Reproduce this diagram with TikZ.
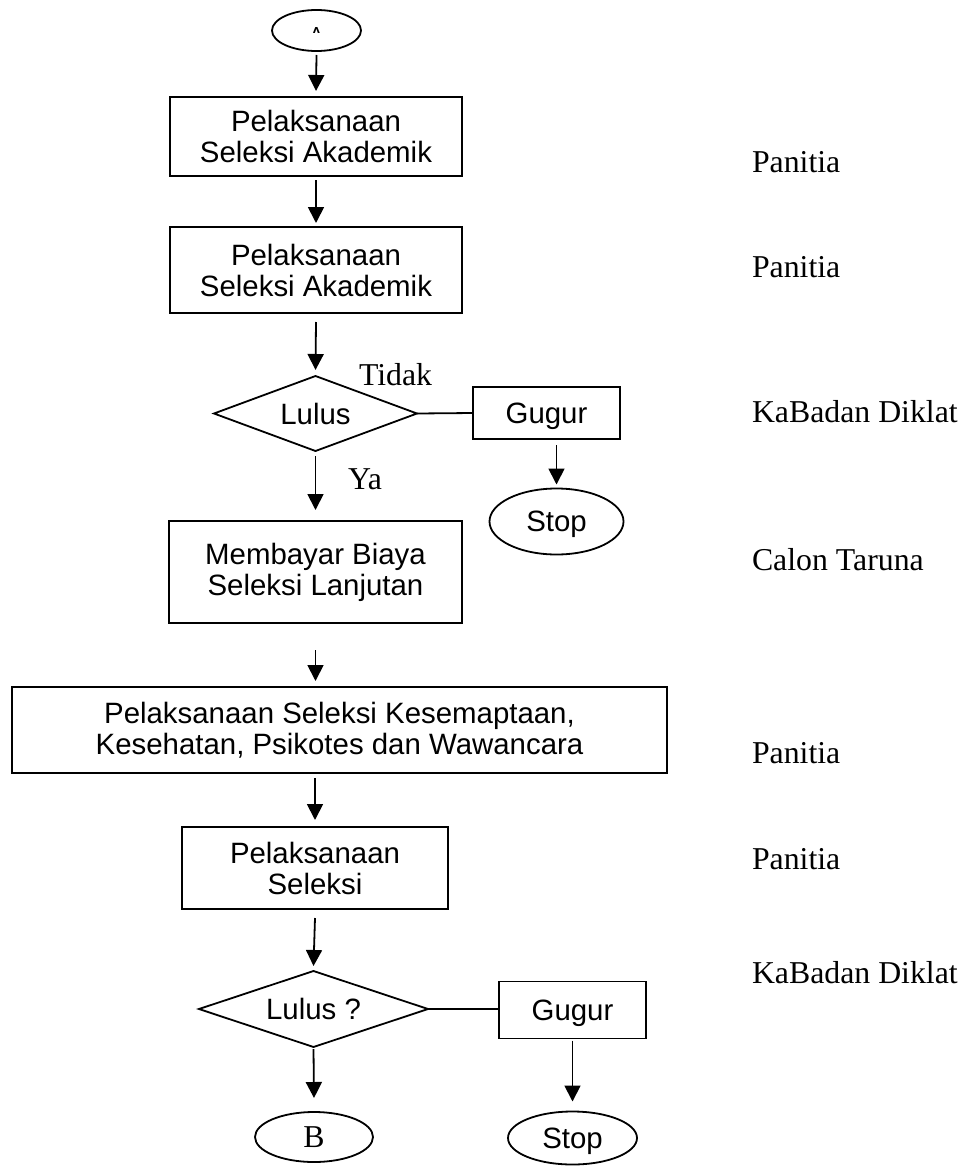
\documentclass[tikz,border=0pt]{standalone}
\usepackage{fontspec}
\setmainfont{Liberation Serif}
\setsansfont{Liberation Sans}
\newfontfamily\dejavufont{DejaVu Sans}
\usetikzlibrary{shapes.geometric,arrows.meta}
\newcommand\boxfont{\sffamily\fontsize{29.4}{31}\selectfont}
\newcommand\labfont{\rmfamily\fontsize{31.8}{36}\selectfont}
\tikzset{
  every node/.style={inner sep=0pt, outer sep=0pt},
  ln/.style={line width=1.8pt},
  arr/.style={line width=1.8pt, -{Triangle[width=16pt,length=16pt]}},
  proc/.style={draw, ln, rectangle, align=center, font=\boxfont},
  dec/.style={draw, ln, diamond, aspect=3, align=center, font=\boxfont},
  term/.style={draw, ln, ellipse, align=center},
  lab/.style={anchor=base west, font=\labfont},
}
\begin{document}
\begin{tikzpicture}[x=1pt,y=-1pt]
\useasboundingbox (0,0) rectangle (964,1172);
% nodes
\node[term, minimum width=89pt, minimum height=41pt, font=\dejavufont\bfseries\fontsize{11}{11}\selectfont] (start) at (316.5,30.5) {ʌ};
\node[proc, minimum width=292pt, minimum height=79pt] (b1) at (316,136.5) {Pelaksanaan\\Seleksi Akademik};
\node[proc, minimum width=292pt, minimum height=86pt] (b2) at (316,270) {Pelaksanaan\\Seleksi Akademik};
\node[dec, minimum width=203pt, minimum height=75pt] (d1) at (315.5,413.5) {Lulus};
\node[proc, minimum width=147pt, minimum height=52pt, text depth=0pt] (g1) at (546.5,413) {Gugur};
\node[term, minimum width=134pt, minimum height=66pt, font=\boxfont, text depth=0pt] (s1) at (556.5,521.5) {Stop};
\node[proc, minimum width=293pt, minimum height=102pt] (b3) at (315.5,572) {Membayar Biaya\\Seleksi Lanjutan};
\node[proc, minimum width=655pt, minimum height=86pt] (b4) at (339.5,730) {Pelaksanaan Seleksi Kesemaptaan,\\Kesehatan, Psikotes dan Wawancara};
\node[proc, minimum width=266pt, minimum height=82pt] (b5) at (315,868) {Pelaksanaan\\Seleksi};
\node[dec, minimum width=229pt, minimum height=76pt] (d2) at (313.5,1009) {Lulus ?};
\node[proc, minimum width=147pt, minimum height=57pt, text depth=0pt] (g2) at (572.5,1010) {Gugur};
\node[term, minimum width=129pt, minimum height=53pt, font=\boxfont, text depth=0pt] (s2) at (572.5,1138) {Stop};
\node[term, minimum width=118pt, minimum height=50pt, font=\labfont] (bb) at (314,1137) {B};
% branch labels
\node[lab] (tidak) at (359,385) {Tidak};
\node[lab] (ya) at (348,489) {Ya};
% right column
\node[lab] (r1) at (752,172) {Panitia};
\node[lab] (r2) at (752,277) {Panitia};
\node[lab] (r3) at (752,422) {KaBadan Diklat};
\node[lab] (r4) at (752,570) {Calon Taruna};
\node[lab] (r5) at (752,763) {Panitia};
\node[lab] (r6) at (752,869) {Panitia};
\node[lab] (r7) at (752,983) {KaBadan Diklat};
% connectors
\draw[arr] ([yshift=-4pt]start.south) -- ([yshift=6pt]b1.north);
\draw[arr] ([yshift=-4pt]b1.south) -- ([yshift=4pt]b2.north);
\draw[arr] ([yshift=-9pt]b2.south) -- ([yshift=6pt]d1.north);
\draw[ln] (d1.east) -- (g1.west);
\draw[arr] ([yshift=-6pt]g1.south -| s1.north) -- ([yshift=4pt]s1.north);
\draw[arr] ([yshift=-5pt]d1.south) -- ([yshift=11pt]b3.north);
\draw[arr] ([yshift=-27pt]b3.south) -- ([yshift=6pt]b3.north |- b4.north);
\draw[arr] ([yshift=-5pt]b4.south -| b5.north) -- ([yshift=7pt]b5.north);
\draw[arr] ([yshift=-9pt]b5.south) -- ([yshift=5pt]d2.north);
\draw[ln] (d2.east) -- (d2.east -| g2.west);
\draw[arr] ([yshift=-2pt]d2.south) -- ([yshift=14pt]bb.north);
\draw[arr] ([yshift=-2pt]g2.south) -- ([yshift=10pt]s2.north);
\end{tikzpicture}
\end{document}
